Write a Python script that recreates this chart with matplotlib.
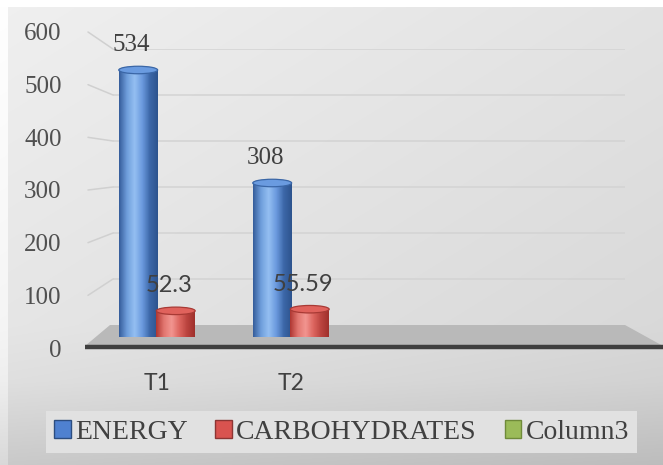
import numpy as np
import matplotlib.pyplot as plt
from matplotlib.patches import Ellipse, Polygon, Patch, ConnectionPatch
from matplotlib.colors import LinearSegmentedColormap

categories = ['T1', 'T2']
energy = [534, 308]
carbs = [52.3, 55.59]
series_names = ['ENERGY', 'CARBOHYDRATES', 'Column3']
y_ticks = [0, 100, 200, 300, 400, 500, 600]

W, H = 663, 465


def frame(x0, y0, x1, y1):
    # pixel box measured from the top-left corner -> figure fraction rect
    return [x0 / W, 1 - y1 / H, (x1 - x0) / W, (y1 - y0) / H]


fig = plt.figure(figsize=(W / 100, H / 100), dpi=100)

# background: soft gray gradient, floor plane
bg = fig.add_axes([0, 0, 1, 1], zorder=-3)
bg.set_xlim(0, W)
bg.set_ylim(H, 0)
bg.axis('off')
yy = np.linspace(0, 1, H)[:, None]
xx = np.linspace(0, 1, W)[None, :]
shade = np.interp(yy, [0, 0.7, 0.82, 1], [0.94, 0.9, 0.875, 0.79]) - 0.05 * xx
img = np.dstack([shade] * 3)
img[:8, :] = 1.0
img[:, :8] = np.clip(img[:, :8] + 0.06, 0, 1)
bg.imshow(img, extent=(0, W, H, 0), aspect='auto', interpolation='bilinear')
bg.add_patch(Polygon([(85, 346), (110, 325), (625, 325), (663, 346)],
                     facecolor='#b9b9b9', edgecolor='none'))
bg.plot([85, 663], [346.5, 346.5], color='#3f3f3f', lw=3.2, solid_capstyle='butt')
bg.set_xlim(0, W)
bg.set_ylim(H, 0)

# back wall with gridlines
ax_wall = fig.add_axes(frame(113, 49, 625, 325), zorder=-2)
ax_wall.set_ylim(0, 600)
ax_wall.axis('off')
for v in y_ticks[1:]:
    ax_wall.axhline(v, color='#d3d3d3', lw=1.1)

# value axis labels at the front-left edge
ax_tick = fig.add_axes(frame(70, 32, 88, 348), zorder=-2)
ax_tick.set_ylim(0, 600)
ax_tick.set_yticks(y_ticks)
ax_tick.set_yticklabels([str(v) for v in y_ticks], family='Liberation Serif',
                        fontsize=18, color='#505050')
ax_tick.tick_params(axis='y', length=0, pad=6)
ax_tick.set_xticks([])
ax_tick.patch.set_visible(False)
for s in ax_tick.spines.values():
    s.set_visible(False)

for v in y_ticks[1:]:
    con = ConnectionPatch(xyA=(1.0, v), coordsA=ax_tick.get_yaxis_transform(),
                          xyB=(0.0, v), coordsB=ax_wall.get_yaxis_transform(),
                          color='#d0d0d0', lw=1.1, zorder=-1.5)
    fig.add_artist(con)

# bars
ax = fig.add_axes(frame(85, 37, 645, 337), zorder=1)
ax.patch.set_visible(False)
for s in ax.spines.values():
    s.set_visible(False)

blue_cmap = LinearSegmentedColormap.from_list(
    'cyl_blue', ['#365e9c', '#6f9edb', '#94bff2', '#6b9ade', '#3c67a8', '#2d548e'])
red_cmap = LinearSegmentedColormap.from_list(
    'cyl_red', ['#b03833', '#e27670', '#f29590', '#dd6660', '#bb443f', '#9f302c'])


def cylinder(ax, x, v, w, cmap, cap_face, cap_edge):
    cap = 15
    base = Ellipse((x, 0), w, cap, facecolor='none', edgecolor='none')
    ax.add_patch(base)
    body = ax.bar(x, v, w, color='none', edgecolor='none')[0]
    grad = np.linspace(0, 1, 64)[None, :]
    for p in (base, body):
        im = ax.imshow(grad, cmap=cmap, extent=(x - w / 2, x + w / 2, -cap / 2, v),
                       aspect='auto', interpolation='bilinear', zorder=1)
        im.set_clip_path(p)
    ax.add_patch(Ellipse((x, v), w, cap, facecolor=cap_face, edgecolor=cap_edge,
                         lw=0.9, zorder=2))


w = 0.29
xs = np.arange(len(categories))
for i, (e, c) in enumerate(zip(energy, carbs)):
    cylinder(ax, xs[i] - 0.14, e, w, blue_cmap, '#6a9be0', '#3a66a6')
    cylinder(ax, xs[i] + 0.14, c, w, red_cmap, '#e0625c', '#a83a35')
    ax.annotate(f'{e:g}', (xs[i] - 0.14, e), xytext=(-7, 25), textcoords='offset pixels',
                ha='center', va='center', family='Liberation Serif', fontsize=18,
                color='#404040', zorder=5)
    ax.annotate(f'{c:g}', (xs[i] + 0.14, c), xytext=(-7, 25), textcoords='offset pixels',
                ha='center', va='center', family='Lato', fontsize=17,
                color='#404040', zorder=5)

ax.set_xticks(xs)
ax.set_xticklabels(categories, family='Lato', fontsize=16.5, color='#404040')
ax.tick_params(axis='x', length=0, pad=26)
ax.set_yticks([])
ax.set_xlim(-0.537, 3.642)
ax.set_ylim(0, 600)

handles = [Patch(facecolor='#4f81d0', edgecolor='#2c4d80', label=series_names[0]),
           Patch(facecolor='#d9534f', edgecolor='#8c3533', label=series_names[1]),
           Patch(facecolor='#9bbb59', edgecolor='#6f8a3a', label=series_names[2])]
fig.legend(handles=handles, loc='center', bbox_to_anchor=(341.5 / W, 1 - 432 / H),
           ncol=3, prop={'family': 'Liberation Serif', 'size': 20}, frameon=True,
           facecolor='#e1e1e1', edgecolor='none', fancybox=False, framealpha=1,
           handlelength=0.6, handleheight=0.6, handletextpad=0.15,
           columnspacing=1.0, borderpad=0.3, borderaxespad=0,
           labelcolor='#404040')

fig.savefig('out.png', dpi=100)
